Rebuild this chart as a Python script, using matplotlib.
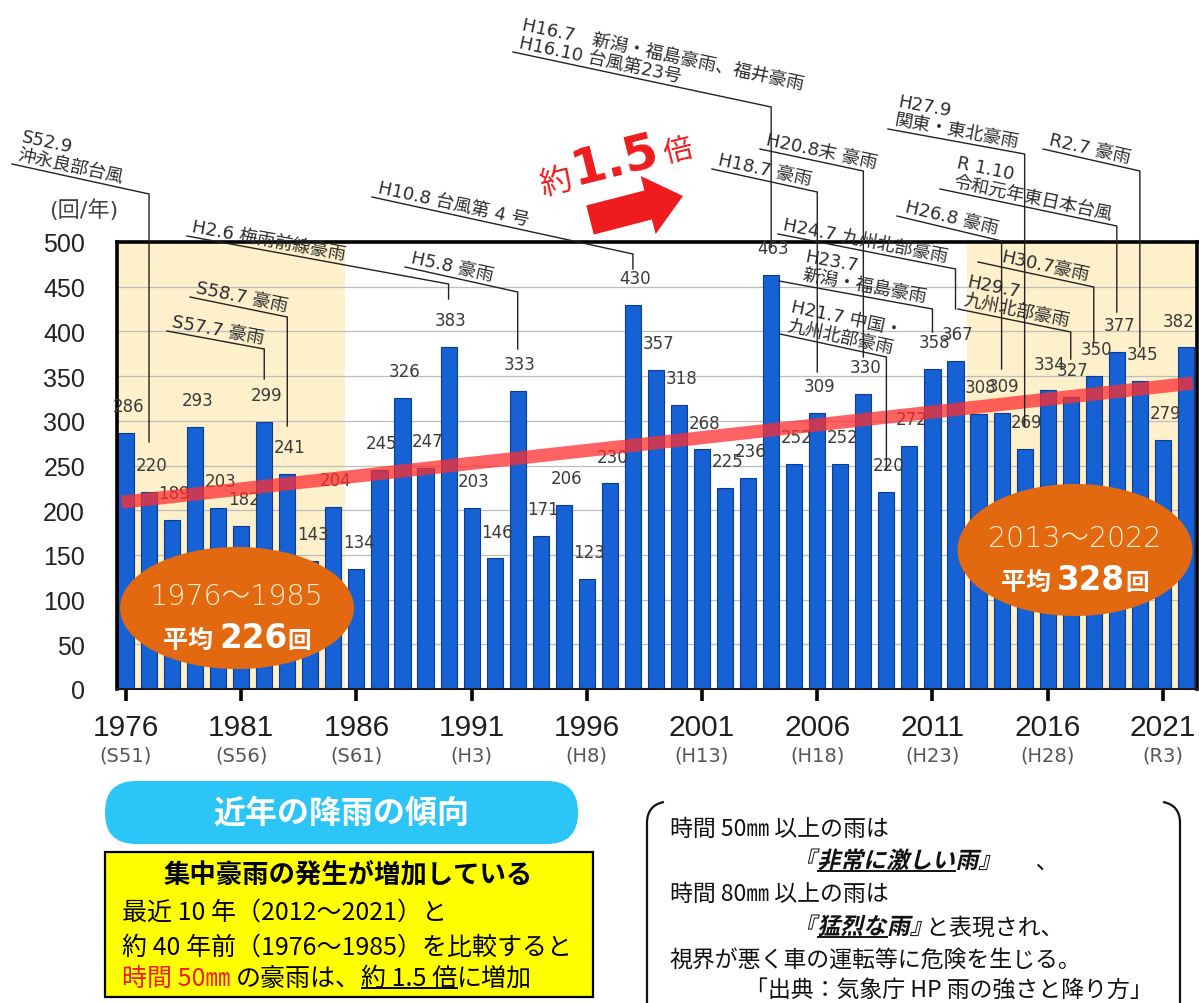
import numpy as np
import matplotlib
matplotlib.use("Agg")
import matplotlib.pyplot as plt
from matplotlib.patches import Ellipse, FancyBboxPatch, PathPatch, Rectangle, FancyArrow
from matplotlib.path import Path
from matplotlib.textpath import TextPath
from matplotlib.font_manager import FontProperties
from matplotlib.transforms import Affine2D

JP = ["Noto Sans CJK JP", "DejaVu Sans"]
MIX = ["DejaVu Sans", "Noto Sans CJK JP"]
LIB = ["Liberation Sans", "DejaVu Sans"]

# 1時間降水量50mm以上の年間発生回数
years = list(range(1976, 2023))
counts = [286, 220, 189, 293, 203, 182, 299, 241, 143, 204,
          134, 245, 326, 247, 383, 203, 146, 333, 171, 206,
          123, 230, 430, 357, 318, 268, 225, 236, 463, 252,
          309, 252, 330, 220, 272, 358, 367, 308, 309, 269,
          334, 327, 350, 377, 345, 279, 382]
tick_years = [1976, 1981, 1986, 1991, 1996, 2001, 2006, 2011, 2016, 2021]
era_labels = ["(S51)", "(S56)", "(S61)", "(H3)", "(H8)",
              "(H13)", "(H18)", "(H23)", "(H28)", "(R3)"]
early = (1976, 1985)
recent = (2013, 2022)

events = [
    ("S52.9\n沖永良部台風", 1977),
    ("S57.7 豪雨", 1982),
    ("S58.7 豪雨", 1983),
    ("H2.6 梅雨前線豪雨", 1990),
    ("H5.8 豪雨", 1993),
    ("H10.8 台風第 4 号", 1998),
    ("H16.7　新潟・福島豪雨、福井豪雨\nH16.10 台風第23号", 2004),
    ("H18.7 豪雨", 2006),
    ("H20.8末 豪雨", 2008),
    ("H21.7 中国・\n九州北部豪雨", 2009),
    ("H23.7\n新潟・福島豪雨", 2011),
    ("H24.7 九州北部豪雨", 2012),
    ("H26.8 豪雨", 2014),
    ("H27.9\n関東・東北豪雨", 2015),
    ("H29.7\n九州北部豪雨", 2017),
    ("H30.7豪雨", 2018),
    ("R 1.10\n令和元年東日本台風", 2019),
    ("R2.7 豪雨", 2020),
]
# leader geometry in pixels: underline start x, y, elbow y, foot y, text inset
leaders = [
    (12, 165, 195, 443, 4),
    (167, 332, 350, 380, 4),
    (190, 298, 318, 427, 4),
    (187, 237, 285, 300, 4),
    (405, 268, 293, 350, 4),
    (372, 198, 255, 270, 4),
    (513, 53, 108, 248, 4),
    (712, 170, 193, 373, 4),
    (760, 150, 172, 358, 4),
    (780, 335, 358, 470, 6),
    (779, 282, 310, 333, 22),
    (778, 235, 270, 310, 4),
    (897, 217, 242, 370, 6),
    (888, 130, 155, 427, 5),
    (958, 310, 333, 360, 4),
    (978, 263, 288, 343, 22),
    (940, 190, 227, 313, 12),
    (1043, 150, 172, 348, 4),
]

W, H = 1199, 1004
RED = "#EE1C1C"
ORANGE = "#E2690F"

fig = plt.figure(figsize=(W / 100, H / 100), dpi=100)
ax = fig.add_axes([117 / W, 1 - 690 / H, 1080 / W, 447 / H])
ax.set_xlim(1975.61, 2022.48)
ax.set_ylim(0, 500)

ax.axvspan(early[0] - 0.5, early[1] + 0.5, color="#FDF0CB", lw=0, zorder=0)
ax.axvspan(recent[0] - 0.5, recent[1] + 0.6, color="#FDF0CB", lw=0, zorder=0)
for v in range(50, 500, 50):
    ax.axhline(v, color="#BDBDBD", lw=0.9, zorder=1)

ax.bar(years, counts, width=0.70, color="#1661D4", edgecolor="#0B3C94", lw=0.8, zorder=2)
x_right = ax.get_xlim()[1]
for yr, v in zip(years, counts):
    ax.text(min(yr + 0.1, x_right - 0.78), v + 30, str(v), ha="center", va="center",
            fontsize=12, color="#3a3a3a", family=MIX, zorder=3)

# linear trend through the yearly counts
coef = np.polyfit(years, counts, 1)
tx = np.array([1975.8, 2022.3])
ax.plot(tx, np.polyval(coef, tx), color="#FF2D2D", lw=9.5, alpha=0.75,
        solid_capstyle="butt", zorder=4)

for side in ["left", "top", "right"]:
    ax.spines[side].set_linewidth(2.6)
    ax.spines[side].set_color("black")
ax.spines["bottom"].set_linewidth(1.5)
ax.spines["bottom"].set_color("#1a1a1a")

ax.set_xticks(tick_years)
ax.set_xticklabels([str(y) for y in tick_years], fontsize=21.5, family=LIB, color="#1e1e1e")
ax.tick_params(axis="x", length=8.5, width=2.6, direction="out", pad=9, color="black")
for yr, lab in zip(tick_years, era_labels):
    ax.text(yr, -0.147, lab, transform=ax.get_xaxis_transform(), ha="center", va="center",
            fontsize=14, family=MIX, color="#555555")

ax.set_yticks(range(0, 501, 50))
ax.set_yticklabels([str(v) for v in range(0, 501, 50)], fontsize=18, family=LIB, color="#222222")
ax.tick_params(axis="y", length=0, pad=23)

# pixel-space overlay for callouts, badges and the text panels
ov = fig.add_axes([0, 0, 1, 1], zorder=5)
ov.set_xlim(0, W)
ov.set_ylim(H, 0)
ov.axis("off")


def px(year, value=0):
    dx, dy = ax.transData.transform((year, value))
    return dx, H - dy


ov.text(84, 210, "(回/年)", ha="center", va="center", fontsize=16, family=MIX, color="#444444")

for (label, yr), (x0, y0, ye, yend, inset) in zip(events, leaders):
    xv = px(yr)[0]
    ov.plot([x0, xv, xv], [y0, ye, yend], color="#222222", lw=1.0, solid_joinstyle="miter")
    ang = -np.degrees(np.arctan2(ye - y0, xv - x0))
    th = np.radians(-ang)
    ov.text(x0 + inset * np.cos(th), y0 + inset * np.sin(th) - 2, label, rotation=ang,
            rotation_mode="anchor", ha="left", va="bottom", fontsize=13, family=MIX,
            color="#2b2b2b", linespacing=1.05)

# "約1.5倍" arrow
ov.add_patch(FancyArrow(590, 221, 93, -24, width=30, head_width=60, head_length=36,
                        length_includes_head=True, fc=RED, ec="none"))
ov.text(556, 182, "約", fontsize=23, color=RED, rotation=14, ha="center", va="center", family=JP)
ov.text(615, 160, "1.5", fontsize=36, color=RED, weight="bold", rotation=14, ha="center",
        va="center", family="DejaVu Sans")
ov.text(678, 152, "倍", fontsize=21, color=RED, rotation=14, ha="center", va="center", family=JP)

rend = fig.canvas.get_renderer()


def put_runs(x, y, runs, ha="left", **base):
    pieces = []
    for s, opt in runs:
        opt = {**base, **opt}
        ul = opt.pop("underline", False)
        slant = opt.pop("slant", False)
        col = opt.get("color", "black")
        if slant:
            fp = FontProperties(family=JP, weight=opt.get("weight", "normal"))
            tp = TextPath((0, 0), s, size=opt["fontsize"] * 100 / 72, prop=fp)
            w = tp.get_extents().x1 + 2
            pieces.append(("path", tp, w, ul, col))
        else:
            t = ov.text(0, y, s, ha="left", va="baseline", **opt)
            w = t.get_window_extent(rend).width
            pieces.append(("text", t, w, ul, col))
    total = sum(p[2] for p in pieces)
    cx = x - total / 2 if ha == "center" else x
    for kind, obj, w, ul, col in pieces:
        if kind == "text":
            obj.set_x(cx)
        else:
            tr = Affine2D().skew_deg(13, 0).scale(1, -1).translate(cx, y)
            ov.add_patch(PathPatch(tr.transform_path(obj), fc=col, ec="none", lw=0))
        if ul:
            ov.plot([cx + 1, cx + w], [y + 3, y + 3], color=col, lw=1.4)
        cx += w


# average badges
badges = [(early, 237, 609, 234, 122), (recent, 1075, 551, 235, 132)]
for (a, b), cx, cy, bw, bh in badges:
    mean = np.mean([c for yr, c in zip(years, counts) if a <= yr <= b])
    ov.add_patch(Ellipse((cx, cy), bw, bh, fc=ORANGE, ec="none"))
    put_runs(cx, cy - 4, [(f"{a}～{b}", {})], ha="center",
             fontsize=20.5, family=MIX, color="#FFF0D2", weight="light")
    put_runs(cx, cy + 39, [("平均 ", {"fontsize": 18}),
                           (f"{mean:.0f}", {"fontsize": 23.5, "family": "DejaVu Sans"}),
                           ("回", {"fontsize": 17})],
             ha="center", family=JP, color="white", weight="bold")

# bottom-left panel
ov.add_patch(FancyBboxPatch((105, 782), 473, 63, boxstyle="round,pad=0,rounding_size=31",
                            fc="#2BC6F7", ec="none"))
ov.text(341, 814, "近年の降雨の傾向", ha="center", va="center", fontsize=23,
        weight="bold", color="white", family=JP)
ov.add_patch(Rectangle((105, 853), 488, 145, fc="#FFFF00", ec="black", lw=1.6))
put_runs(348, 882, [("集中豪雨の発生が増加している", {})], ha="center",
         fontsize=19, weight="bold", family=JP)
put_runs(122, 920, [("最近 10 年（2012～2021）と", {})], fontsize=18, family=JP)
put_runs(122, 955, [("約 40 年前（1976～1985）を比較すると", {})], fontsize=18, family=JP)
put_runs(122, 986, [("時間 50㎜ ", {"color": RED}),
                    ("の豪雨は、", {}),
                    ("約 1.5 倍", {"underline": True}),
                    ("に増加", {})], fontsize=18, family=JP)

# bottom-right note with bracket sides
for xs in [(664, 653, 647), (1163, 1174, 1180)]:
    a, b, c = xs
    verts = [(a, 803), (b, 805), (c, 812), (c, 824), (c, 1010)]
    codes = [Path.MOVETO, Path.CURVE4, Path.CURVE4, Path.CURVE4, Path.LINETO]
    ov.add_patch(PathPatch(Path(verts, codes), fc="none", ec="#111111", lw=1.6))

note = dict(fontsize=16.5, family=JP, color="#111111")
put_runs(670, 836, [("時間 50㎜ 以上の雨は", {})], **note)
put_runs(793, 869, [("『", {"slant": True, "weight": "bold"}),
                    ("非常に激しい", {"slant": True, "weight": "bold", "underline": True}),
                    ("雨』", {"slant": True, "weight": "bold"}),
                    ("　　、", {})], **note)
put_runs(670, 901, [("時間 80㎜ 以上の雨は", {})], **note)
put_runs(793, 935, [("『", {"slant": True, "weight": "bold"}),
                    ("猛烈な", {"slant": True, "weight": "bold", "underline": True}),
                    ("雨』", {"slant": True, "weight": "bold"}),
                    (" と表現され、", {})], **note)
put_runs(670, 967, [("視界が悪く車の運転等に危険を生じる。", {})], **note)
put_runs(745, 997, [("「出典：気象庁 HP 雨の強さと降り方」", {})], **note)

fig.savefig("out.png", dpi=100)
